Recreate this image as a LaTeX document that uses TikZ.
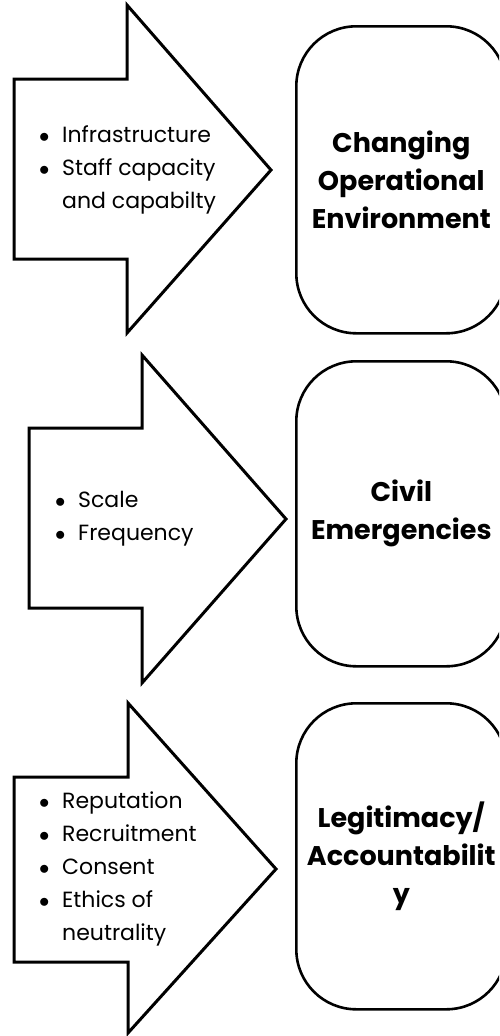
\documentclass[tikz,border=0pt]{standalone}
\usepackage{fontspec}
\setmainfont{Poppins}
\usetikzlibrary{positioning}
\tikzset{
  arrowshape/.style={draw=black, line width=3pt, line join=miter},
  goalbox/.style={draw=black, line width=2.6pt, rounded corners=60pt,
    minimum width=210pt, align=center, anchor=north west,
    font=\bfseries\fontsize{27}{38}\selectfont},
  pointlist/.style={align=left, inner sep=0pt, anchor=west,
    font=\fontsize{22}{33}\selectfont},
}
\newcommand{\bpt}{\makebox[23pt][l]{$\bullet$}}
\newcommand{\bgap}{\makebox[23pt][l]{}}
\begin{document}
\begin{tikzpicture}[x=1pt,y=-1pt]
  \useasboundingbox (0,0) rectangle (499,1036);
  \clip (0,0) rectangle (499,1036);
  % first arrow
  \draw[arrowshape] (14,79) coordinate (A1) -- (127,79) -- (127,5) -- (271,170) coordinate (T1)
    -- (127,333) -- (127,259) -- (14,259) -- cycle;
  \node[pointlist] (infra) at (39,170) {\bpt Infrastructure\\\bpt Staff capacity\\\bgap and capabilty};
  \node[goalbox, minimum height=307pt] (env) at (295,25) {Changing\\Operational\\Environment};
  % second arrow
  \draw[arrowshape] (29,428) coordinate (A2) -- (142,428) -- (142,355) -- (286,519) coordinate (T2)
    -- (142,683) -- (142,608) -- (29,608) -- cycle;
  \node[pointlist] (scale) at (55,519) {\bpt Scale\\\bpt Frequency};
  \node[goalbox, minimum height=305pt] (civil) at (295,360) {Civil\\Emergencies};
  % third arrow
  \draw[arrowshape] (14,777) coordinate (A3) -- (128,777) -- (128,703) -- (276,869) coordinate (T3)
    -- (128,1033) -- (128,962) -- (14,962) -- cycle;
  \node[pointlist] (rep) at (39,869) {\bpt Reputation\\\bpt Recruitment\\\bpt Consent\\\bpt Ethics of\\\bgap neutrality};
  \node[goalbox, minimum height=306pt] (legit) at (295,702) {Legitimacy/\\Accountabilit\\y};
\end{tikzpicture}
\end{document}
